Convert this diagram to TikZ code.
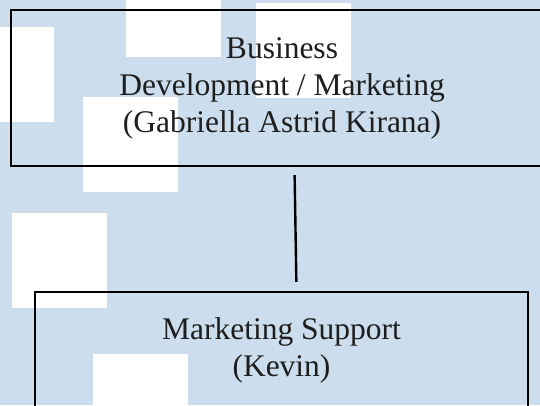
\documentclass[tikz,border=0pt]{standalone}
\usepackage{fontspec}
\setmainfont{Liberation Serif}
\usetikzlibrary{positioning}
\definecolor{bgblue}{RGB}{204,222,237}
\definecolor{ink}{RGB}{30,30,30}

\begin{document}
\begin{tikzpicture}[x=1pt,y=-1pt,
    role/.style={draw=black,line width=2.4pt,align=center,inner sep=0pt,text=ink,
      font=\fontsize{31.5}{37}\selectfont},
    patch/.style={fill=white}]
   % background and the white squares
   \fill[bgblue] (0,0) rectangle (540,405);
   \useasboundingbox (0,0) rectangle (540,405);
   \foreach \px/\py in {-41/27,126/-38,256/3,83/97,12/213,93/354}
      \fill[patch] (\px,\py) rectangle ++(95,95);
   % the two boxes
   \node[role,minimum width=542pt,minimum height=156pt] (bizdev) at (282,88)
      {Business\\Development / Marketing\\(Gabriella Astrid Kirana)};
   \node[role,minimum width=493pt,minimum height=116.5pt] (mktsup) at (281.5,350.25)
      {Marketing Support\\(Kevin)};
   \draw[line width=2.4pt,shorten <=8pt,shorten >=9pt]
      ([xshift=12.5pt]bizdev.south) -- ([xshift=15pt]mktsup.north);
\end{tikzpicture}
\end{document}
